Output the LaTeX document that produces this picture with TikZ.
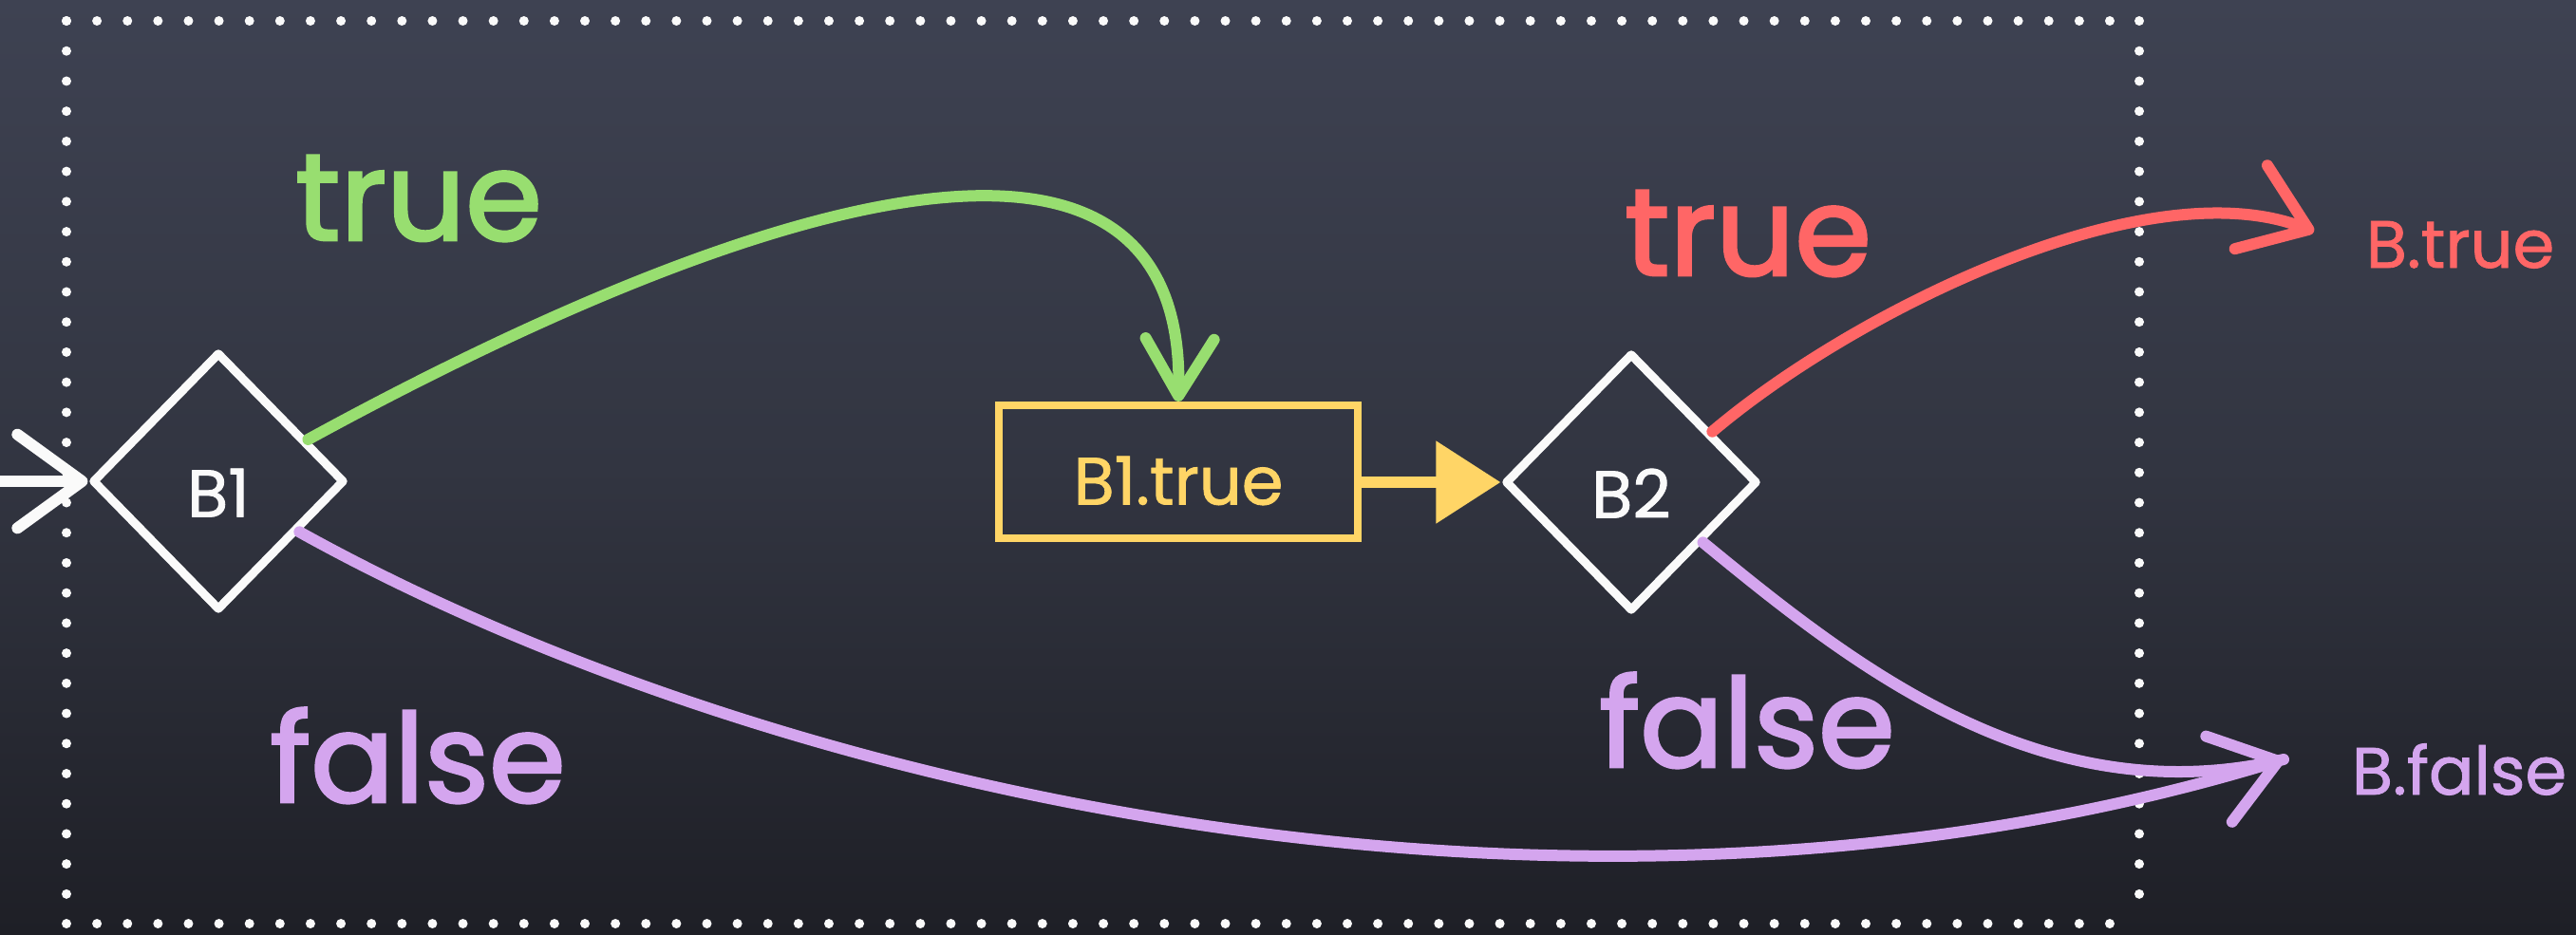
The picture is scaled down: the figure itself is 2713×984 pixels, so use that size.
\documentclass[tikz,border=0pt]{standalone}
\usepackage{fontspec}
\setmainfont{Poppins}
\newfontfamily\chalkheavy{Poppins}[FakeBold=2.2]
\newfontfamily\chalkmed{Poppins}[FakeBold=1.2]
\usetikzlibrary{shapes.geometric,arrows.meta}
\definecolor{chalkwhite}{RGB}{250,250,250}
\definecolor{chalkgreen}{RGB}{152,222,112}
\definecolor{chalkred}{RGB}{255,102,102}
\definecolor{chalkpurple}{RGB}{212,165,238}
\definecolor{chalkyellow}{RGB}{255,213,102}
\definecolor{bgtop}{RGB}{62,66,82}
\definecolor{bgmid}{RGB}{50,53,65}
\definecolor{bgbot}{RGB}{30,31,38}
\newcommand\chalkbig{\chalkheavy\fontsize{37}{44}\selectfont}
\newcommand\chalksmall{\chalkmed\fontsize{20}{24}\selectfont}
\tikzset{
  decision/.style={diamond, draw=chalkwhite, line width=0.09cm, line join=round,
    minimum width=2.66cm, minimum height=2.72cm, inner sep=0pt,
    text=chalkwhite, font=\chalksmall, text height=0.75cm, text depth=0pt},
  actionbox/.style={rectangle, draw=chalkyellow, line width=0.08cm,
    minimum width=3.78cm, minimum height=1.40cm, inner sep=0pt,
    text=chalkyellow, font=\chalksmall, text height=0.69cm, text depth=0pt},
  biglabel/.style={font=\chalkbig, anchor=base, inner sep=0pt},
  smalllabel/.style={font=\chalksmall, anchor=base, inner sep=0pt},
  chalkline/.style={line width=0.12cm, line cap=round, line join=round},
  barb/.style={-{Straight Barb[length=#1, width=1.45*#1, round]}},
  dotline/.style={draw=chalkwhite, line width=0.1cm, line cap=round, dash pattern=on 0pt off #1},
}
\begin{document}
\begin{tikzpicture}[x=0.01cm, y=-0.01cm]
% background
\shade[top color=bgtop, bottom color=bgbot, middle color=bgmid] (0,0) rectangle (2713,984);
\useasboundingbox (0,0) rectangle (2713,984);

% dotted frame
\coordinate (fTL) at (70,22);
\coordinate (fTR) at (2253,22);
\coordinate (fBR) at (2253,973);
\coordinate (fBL) at (70,973);
\draw[dotline=0.321cm] (fTL) -- (fTR);
\draw[dotline=0.321cm] (fBL) -- (fBR);
\draw[dotline=0.317cm] (fTL) -- (fBL);
\draw[dotline=0.317cm] (fTR) -- (fBR);

% nodes
\node[decision] (B1) at (230,507) {B1};
\node[decision] (B2) at (1718,508) {B2};
\node[actionbox] (B1true) at (1241,497) {B1.true};

\node[smalllabel, text=chalkred] (Btrue) at (2591,282) {B.true};
\node[smalllabel, text=chalkpurple] (Bfalse) at (2590,837) {B.false};

\node[biglabel, text=chalkgreen] (lt1) at (441,253) {true};
\node[biglabel, text=chalkred] (lt2) at (1841,290) {true};
\node[biglabel, text=chalkpurple] (lf1) at (440,845) {false};
\node[biglabel, text=chalkpurple] (lf2) at (1840,808) {false};

\coordinate (entry) at (-20,507);
\coordinate (rtip) at (2437,244);
\coordinate (ftip) at (2405,800);

% entry arrow
\draw[chalkline, chalkwhite, barb=0.68cm] (entry) -- (B1.west);

% B1 true branch
\draw[chalkline, chalkgreen, -{Straight Barb[length=0.6cm, width=0.72cm, round]}]
  (B1.25) .. controls (750,230) and (1250,50) .. (B1true.north);

% B1.true -> B2
\draw[chalkline, chalkyellow, -{Triangle[length=0.68cm, width=0.84cm]}]
  (B1true.east |- B2.west) -- (B2.west);

% B2 true
\draw[chalkline, chalkred, barb=0.65cm]
  (B2.32) .. controls (1950,330) and (2260,175) .. (rtip);

% false branches
\draw[chalkline, chalkpurple]
  (B2.-40) .. controls (1950,700) and (2150,860) .. (ftip);
\draw[chalkline, chalkpurple, barb=0.65cm]
  (B1.-32) .. controls (800,830) and (1650,1030) .. (ftip);
\end{tikzpicture}
\end{document}
